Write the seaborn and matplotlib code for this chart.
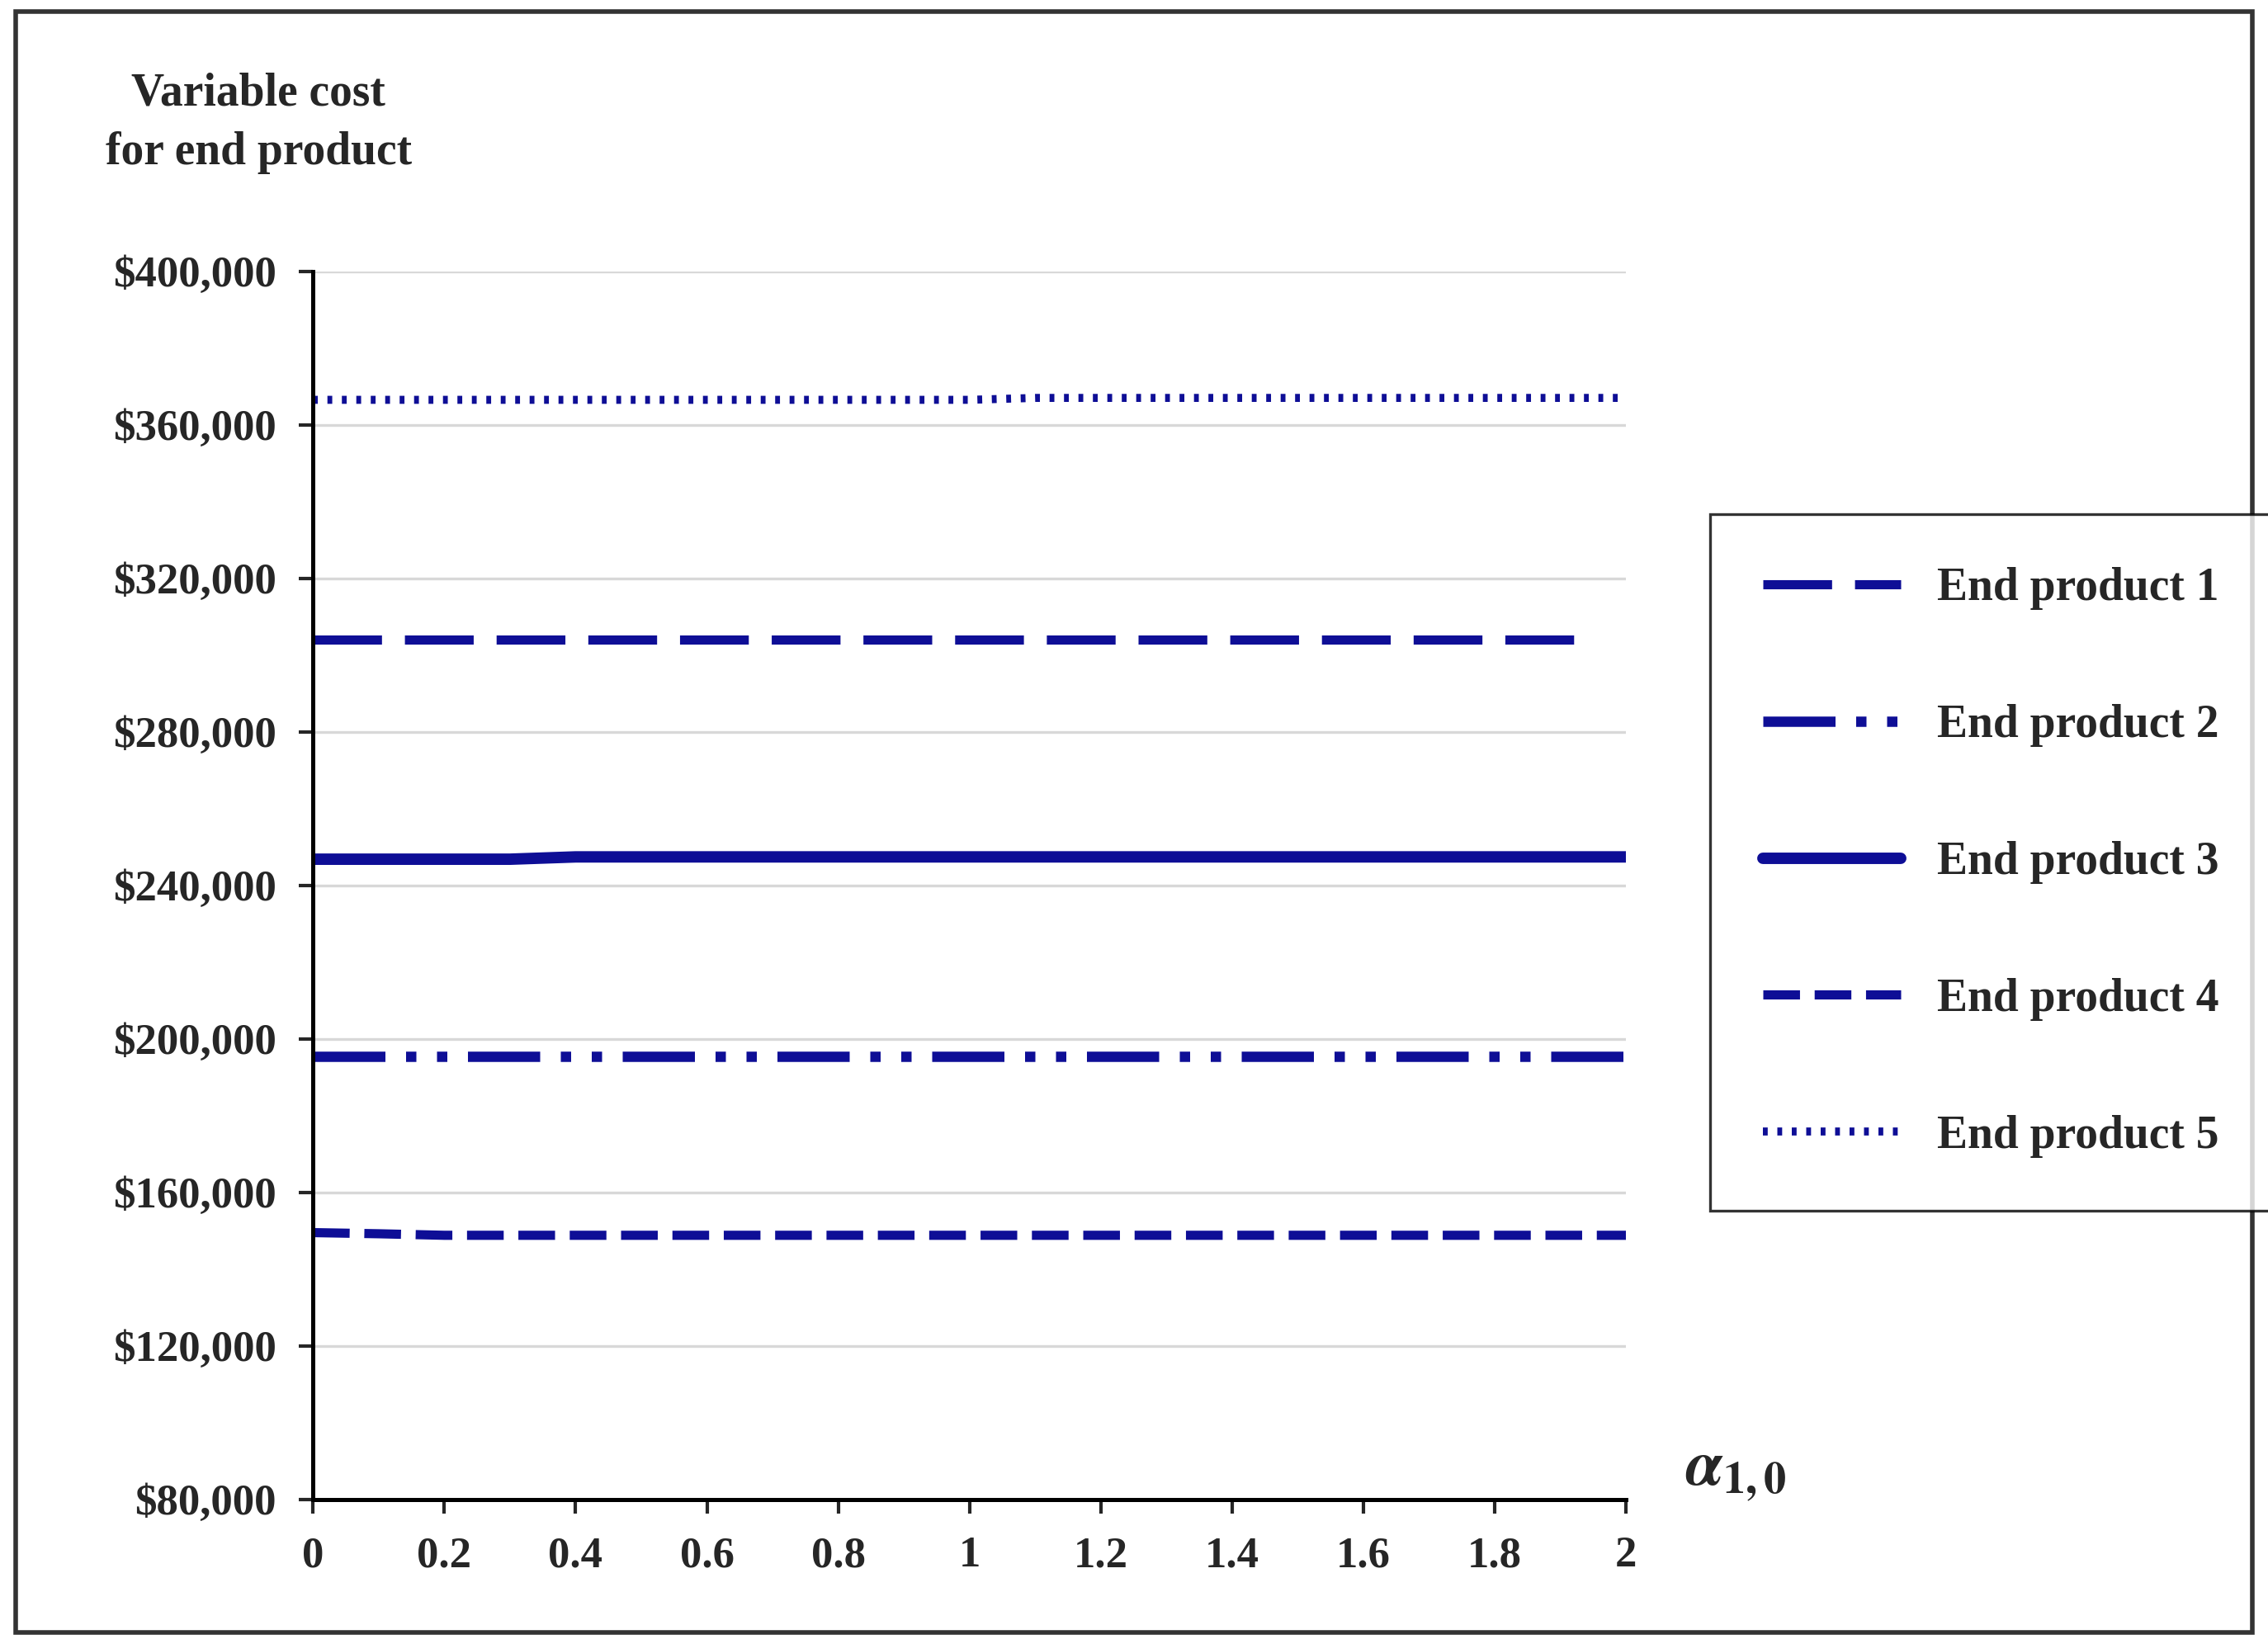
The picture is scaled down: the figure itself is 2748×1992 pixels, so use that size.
import matplotlib
matplotlib.use("Agg")
import matplotlib.pyplot as plt
import seaborn as sns
import pandas as pd
import numpy as np

x = [0, 0.1, 0.2, 0.3, 0.4, 0.5, 0.6, 0.7, 0.8, 0.9, 1.0, 1.1, 1.2, 1.3, 1.4, 1.5, 1.6, 1.7, 1.8, 1.9, 1.95, 2.0]
p1 = [304000]*21 + [np.nan]
p2 = [195500]*22
p3 = [246800, 246800, 246800, 246800, 247400] + [247400]*17
p4 = [149500, 149200] + [148800]*20
p5 = [366500]*11 + [367000]*11
names = ["End product 1", "End product 2", "End product 3", "End product 4", "End product 5"]
series = [p1, p2, p3, p4, p5]

sns.set_theme(style="white")
plt.rcParams['font.family'] = ['Liberation Serif', 'DejaVu Serif']
plt.rcParams['font.weight'] = 'bold'
plt.rcParams['mathtext.fontset'] = 'stix'
color = '#0e0e96'
styles = [(0, (7.5, 2.5)), (0, (7, 2, 1, 2, 1, 2)), '-', (0, (4, 1.6)), (0, (0.6, 1.2))]
widths = [4, 4.5, 5, 4, 3.5]

fig = plt.figure(figsize=(13.74, 9.96), dpi=200)
ax = fig.add_axes([0.138, 0.088, 0.579, 0.747])
df = pd.DataFrame({"x": x})
for n, s, ls, lw in zip(names, series, styles, widths):
    df[n] = s
    sns.lineplot(data=df, x="x", y=n, ax=ax, color=color, linestyle=ls, lw=lw, label=n)

ax.set_xlim(0, 2)
ax.set_ylim(80000, 400000)
ax.set_xticks(np.arange(0, 2.01, 0.2))
ax.set_xticklabels(["0", "0.2", "0.4", "0.6", "0.8", "1", "1.2", "1.4", "1.6", "1.8", "2"])
ax.set_yticks(range(80000, 400001, 40000))
ax.set_yticklabels([f"${v:,}" for v in range(80000, 400001, 40000)])
ax.tick_params(labelsize=19, length=6, direction='out', left=True, bottom=True, width=1.5, pad=10)
for lab in ax.get_xticklabels() + ax.get_yticklabels():
    lab.set_fontweight('bold')
ax.yaxis.grid(True, color='#d8d8d8', lw=1.2)
ax.set_axisbelow(True)
for sp in ['top', 'right']:
    ax.spines[sp].set_visible(False)
for sp in ['left', 'bottom']:
    ax.spines[sp].set_color('black')
    ax.spines[sp].set_linewidth(1.8)
ax.set_xlabel("")
ax.set_ylabel("")
fig.text(0.114, 0.925, "Variable cost\nfor end product", ha='center', va='center',
         fontsize=20, fontweight='bold', linespacing=1.5)
fig.text(0.743, 0.103, r"$\alpha_{1,0}$", fontsize=28, ha='left', va='center')

if ax.legend_:
    ax.legend_.remove()
h, l = ax.get_legend_handles_labels()
leg = fig.legend(h, l, loc='upper left', bbox_to_anchor=(0.744, 0.701), frameon=True,
                 fancybox=False, edgecolor='black', fontsize=20, labelspacing=2.05,
                 handlelength=3.0, borderpad=1.15, handletextpad=0.8)
leg.get_frame().set_linewidth(1.2)
for t in leg.get_texts():
    t.set_fontweight('bold')

fig.patches.append(plt.Rectangle((0.007, 0.007), 0.986, 0.986, transform=fig.transFigure,
                                 fill=False, edgecolor='#333333', lw=2))
fig.savefig("out.png", dpi=200)
